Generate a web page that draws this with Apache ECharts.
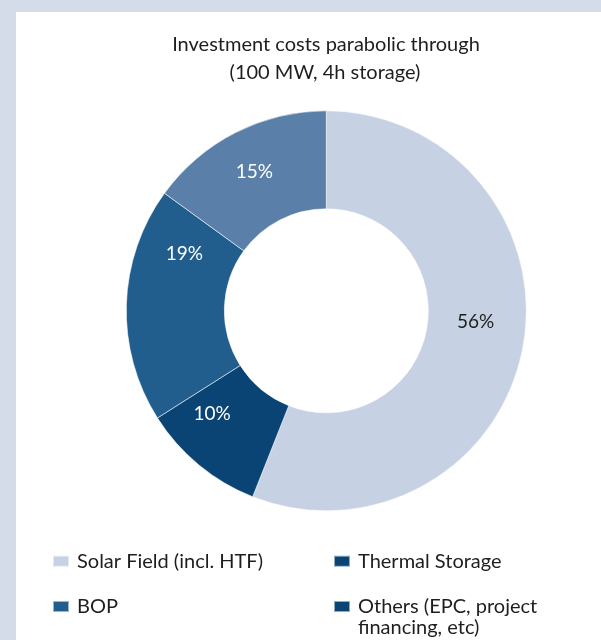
<!DOCTYPE html>
<html>
<head>
<meta charset="utf-8">
<script src="https://cdn.jsdelivr.net/npm/echarts@6/dist/echarts.min.js"></script>
<style>
  html, body { margin: 0; padding: 0; background: #d5dce9; }
  #chart { width: 601px; height: 640px; }
</style>
</head>
<body>
<div id="chart"></div>
<script>
// Cost breakdown of a 100 MW parabolic trough plant with 4h storage
const categories = ['Solar Field (incl. HTF)', 'Thermal Storage', 'BOP', 'Others (EPC, project financing, etc)'];
const shares = [56, 10, 19, 15];
const sliceColors = ['#c6d1e3', '#0a4474', '#215e8d', '#5a80a9'];
const legendColors = ['#c6d1e3', '#0a4474', '#215e8d', '#0a4474'];
const labelColors = ['#1e1e1e', '#ffffff', '#ffffff', '#ffffff'];
const titleLines = ['Investment costs parabolic through', '(100 MW, 4h storage)'];

const FONT = 'Lato';
const TEXT = '#1e1e1e';
const chart = echarts.init(document.getElementById('chart'), null, { renderer: 'canvas' });

// one legend block per category, laid out as a two-column grid
const legendSlots = [
  { left: 52, top: 550.7 },
  { left: 333, top: 550.7 },
  { left: 52, top: 596 },
  { left: 333, top: 575 }
];

// nudges for the in-ring value labels
const labelNudges = [[-2, -18], [-16, -16], [12, -52], [-2, -2]];

// long names break onto a second line; a leading blank line keeps the
// first text line level with the swatch
const legendText = n => n.indexOf(' financing') >= 0
  ? '\n' + n.replace(' financing', '\nfinancing')
  : n;

const legends = categories.map((name, i) => ({
  show: true,
  orient: 'horizontal',
  left: legendSlots[i].left,
  top: legendSlots[i].top,
  padding: 0,
  itemWidth: 16,
  itemHeight: 11,
  icon: 'rect',
  selectedMode: false,
  data: [{ name: name, itemStyle: { color: legendColors[i] } }],
  formatter: legendText,
  textStyle: {
    fontFamily: FONT,
    fontSize: 20,
    color: TEXT,
    lineHeight: 21,
    padding: [0, 0, 0, 3]
  }
}));

chart.setOption({
  animation: false,
  backgroundColor: '#d5dce9',
  graphic: [{
    type: 'rect',
    shape: { x: 16, y: 12, width: 601 - 16, height: 640 - 12 },
    style: { fill: '#ffffff' },
    z: -10
  }],
  title: [
    {
      text: titleLines[0],
      left: 326, top: 35, padding: 0, textAlign: 'center',
      textStyle: { fontFamily: FONT, fontSize: 20, fontWeight: 'normal', color: TEXT }
    },
    {
      text: titleLines[1],
      left: 325, top: 62.5, padding: 0, textAlign: 'center',
      textStyle: { fontFamily: FONT, fontSize: 20, fontWeight: 'normal', color: TEXT }
    }
  ],
  legend: legends,
  series: [{
    type: 'pie',
    center: [326.3, 310.8],
    radius: [102, 200],
    startAngle: 90,
    clockwise: true,
    silent: true,
    itemStyle: { borderColor: 'rgba(255,255,255,0.55)', borderWidth: 1 },
    label: {
      show: true,
      position: 'inside',
      formatter: '{c}%',
      fontFamily: FONT,
      fontSize: 19
    },
    labelLine: { show: false },
    data: categories.map((name, i) => ({
      name: name,
      value: shares[i],
      itemStyle: { color: sliceColors[i] },
      label: { color: labelColors[i], offset: labelNudges[i] }
    }))
  }]
});
</script>
</body>
</html>
